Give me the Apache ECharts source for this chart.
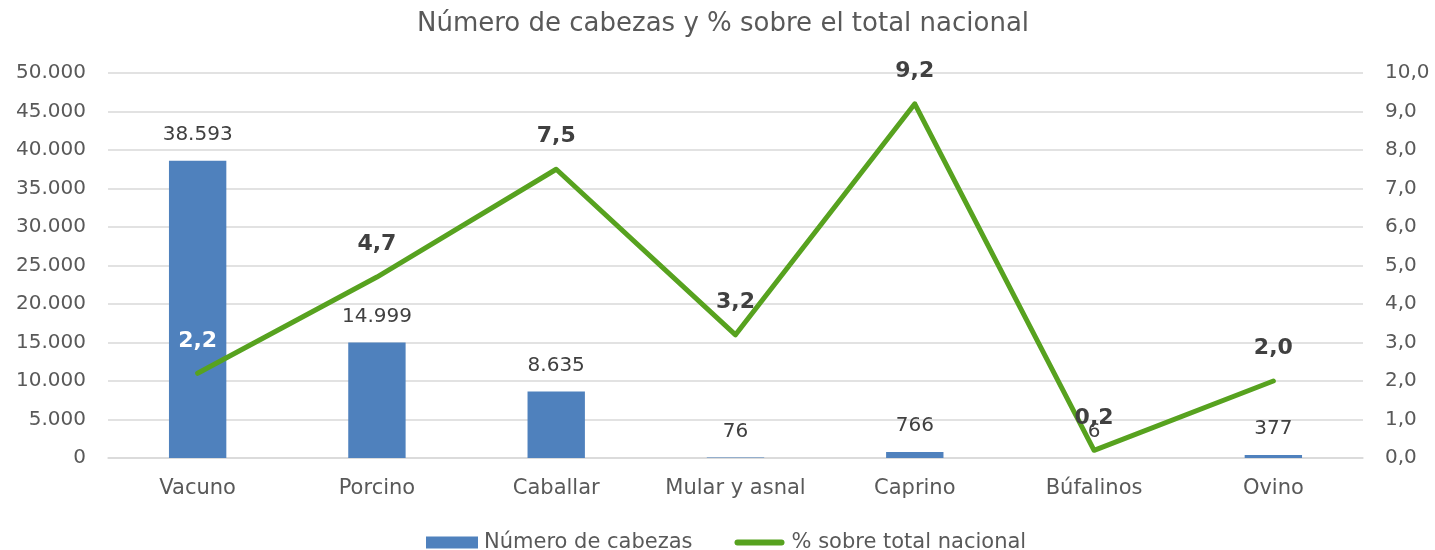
<!DOCTYPE html>
<html>
<head>
<meta charset="utf-8">
<script src="https://cdn.jsdelivr.net/npm/echarts@6/dist/echarts.min.js"></script>
<style>html,body{margin:0;padding:0;background:#fff}#c{width:1435px;height:550px}</style>
</head>
<body>
<div id="c"></div>
<script>
const categories = ['Vacuno', 'Porcino', 'Caballar', 'Mular y asnal', 'Caprino', 'Búfalinos', 'Ovino'];
const cabezas = [38593, 14999, 8635, 76, 766, 6, 377];
const porcentaje = [2.2, 4.7, 7.5, 3.2, 9.2, 0.2, 2.0];

const FONT = '"DejaVu Sans", Verdana, sans-serif';
const fmtMiles = v => String(Math.round(v)).replace(/\B(?=(\d{3})+(?!\d))/g, '.');
const fmtDec = v => v.toFixed(1).replace('.', ',');

// thin rounded stroke used as the legend key of the line series
const LINE_KEY = 'path://M0,0 M3,3 L47,3 Q50,3 50,6 Q50,9 47,9 L3,9 Q0,9 0,6 Q0,3 3,3 Z M50,12';

const chart = echarts.init(document.getElementById('c'));
chart.setOption({
  animation: false,
  textStyle: { fontFamily: FONT },
  title: {
    text: 'Número de cabezas y % sobre el total nacional',
    left: 412, top: 6,
    textStyle: { fontFamily: FONT, fontSize: 26, fontWeight: 'normal', color: '#595959' }
  },
  grid: { left: 108, right: 72, top: 73, bottom: 92, containLabel: false },
  legend: {
    top: 527, left: 421, itemGap: 42, itemWidth: 52, itemHeight: 12,
    textStyle: { fontFamily: FONT, fontSize: 21, color: '#595959', padding: [0, 0, 0, 1] },
    data: [
      { name: 'Número de cabezas', icon: 'rect' },
      { name: '% sobre total nacional', icon: LINE_KEY }
    ]
  },
  xAxis: {
    type: 'category', data: categories,
    axisLine: { lineStyle: { color: '#d9d9d9', width: 1.5 } },
    axisTick: { show: false },
    axisLabel: { fontFamily: FONT, fontSize: 21, color: '#595959', margin: 20, interval: 0 }
  },
  yAxis: [
    {
      type: 'value', min: 0, max: 50000, interval: 5000,
      axisLine: { show: false }, axisTick: { show: false },
      splitLine: { lineStyle: { color: '#d9d9d9', width: 1.5 } },
      axisLabel: { fontFamily: FONT, fontSize: 20, color: '#595959', margin: 22, formatter: fmtMiles }
    },
    {
      type: 'value', min: 0, max: 10, interval: 1,
      axisLine: { show: false }, axisTick: { show: false }, splitLine: { show: false },
      axisLabel: { fontFamily: FONT, fontSize: 20, color: '#595959', margin: 22, formatter: fmtDec }
    }
  ],
  series: [
    {
      name: 'Número de cabezas', type: 'bar', yAxisIndex: 0,
      data: cabezas, barWidth: '32%',
      itemStyle: { color: '#4f81bd' },
      label: {
        show: true, position: 'top', distance: 16,
        fontFamily: FONT, fontSize: 20, color: '#404040',
        formatter: p => fmtMiles(p.value)
      }
    },
    {
      name: '% sobre total nacional', type: 'line', yAxisIndex: 1,
      data: porcentaje.map((v, i) => i === 0
        ? { value: v, label: { color: '#ffffff' } }
        : { value: v }),
      symbol: 'circle', symbolSize: 1, showSymbol: true,
      lineStyle: { color: '#57a21f', width: 5, cap: 'round', join: 'round' },
      itemStyle: { color: '#57a21f' },
      label: {
        show: true, position: 'top', distance: 21,
        fontFamily: FONT, fontSize: 22, fontWeight: 'bold', color: '#404040',
        formatter: p => fmtDec(p.value)
      },
      labelLayout: { hideOverlap: false },
      z: 3
    }
  ]
});
</script>
</body>
</html>
